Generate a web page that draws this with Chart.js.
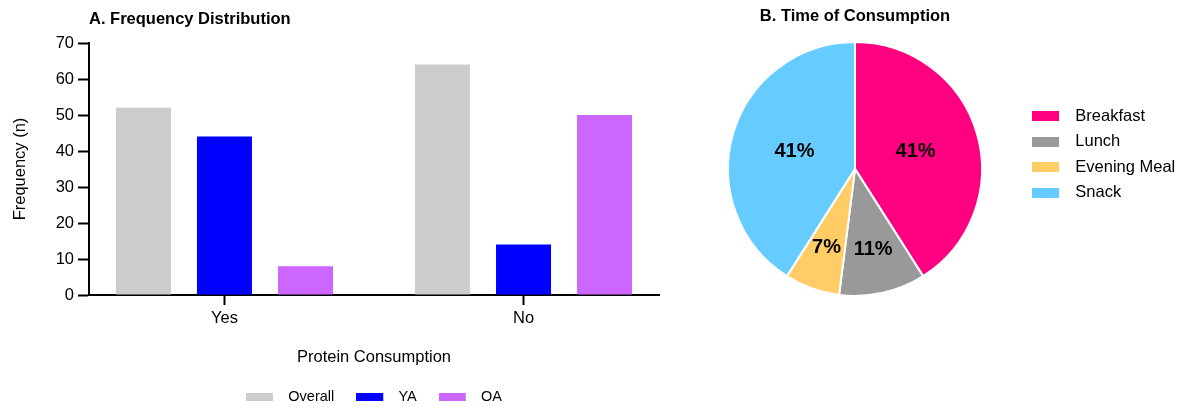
<!DOCTYPE html>
<html>
<head>
<meta charset="utf-8">
<title>Protein consumption</title>
<script src="https://cdn.jsdelivr.net/npm/chart.js@4.4.1/dist/chart.umd.min.js"></script>
<style>
  html, body { margin: 0; padding: 0; background: #fff; }
  body { width: 1182px; height: 407px; overflow: hidden; position: relative; }
  canvas { position: absolute; top: 0; }
  #bars { left: 0; }
  #pie { left: 680px; }
</style>
</head>
<body>
<canvas id="bars" width="680" height="414"></canvas>
<canvas id="pie" width="506" height="306"></canvas>
<script>
// Panel A: frequency of protein consumption by group
const proteinCategories = ['Yes', 'No'];
const overallCounts = [52, 64];
const yaCounts = [44, 14];
const oaCounts = [8, 50];
const frequencyTicks = [0, 10, 20, 30, 40, 50, 60, 70];

// Panel B: time of consumption (percent of respondents)
const mealLabels = ['Breakfast', 'Lunch', 'Evening Meal', 'Snack'];
const mealShares = [41, 11, 7, 41];

const FONT = "'Liberation Sans', Arial, Helvetica, sans-serif";
Chart.defaults.font.family = FONT;
Chart.defaults.color = '#000';

// Legend swatch: a coloured block followed by a blank gap before the text
function swatch(color, slotWidth, boxWidth, boxHeight) {
  const c = document.createElement('canvas');
  c.width = slotWidth;
  c.height = boxHeight;
  const g = c.getContext('2d');
  g.fillStyle = color;
  g.fillRect(0, 0, boxWidth, boxHeight);
  return c;
}

const toPoints = values => values.map((v, i) => ({ x: i + 1, y: v }));

new Chart(document.getElementById('bars'), {
  type: 'bar',
  data: {
    datasets: [
      { label: 'Overall', data: toPoints(overallCounts), backgroundColor: '#CCCCCC' },
      { label: 'YA', data: toPoints(yaCounts), backgroundColor: '#0000FF' },
      { label: 'OA', data: toPoints(oaCounts), backgroundColor: '#CC66FF' }
    ]
  },
  options: {
    responsive: false,
    animation: false,
    barPercentage: 0.679,
    categoryPercentage: 0.8127,
    layout: { padding: { left: 0, right: 21, top: 0, bottom: 0 } },
    scales: {
      x: {
        type: 'linear',
        bounds: 'data',
        min: 0.547,
        max: 2.453,
        offset: false,
        afterBuildTicks: s => { s.ticks = proteinCategories.map((_, i) => ({ value: i + 1 })); },
        afterFit: s => { s.height = 72.5; },
        grid: { drawOnChartArea: false, drawTicks: true, tickLength: 10, tickWidth: 2, tickColor: '#000', offset: false },
        border: { display: true, color: '#000', width: 2 },
        ticks: {
          padding: 4, autoSkip: false, maxRotation: 0, color: '#000',
          font: { size: 16.5 },
          callback: v => proteinCategories[v - 1]
        },
        title: {
          display: true, text: 'Protein Consumption', color: '#000',
          font: { size: 16.5 }, padding: { top: 0, bottom: 0.6 }
        }
      },
      y: {
        min: 0,
        max: 70,
        afterBuildTicks: s => { s.ticks = frequencyTicks.map(v => ({ value: v })); },
        afterFit: s => { s.width = 89; },
        grid: { drawOnChartArea: false, drawTicks: true, tickLength: 11, tickWidth: 2, tickColor: '#000' },
        border: { display: true, color: '#000', width: 2 },
        ticks: { padding: 4, color: '#000', font: { size: 16.5 } },
        title: {
          display: true, text: 'Frequency (n)', color: '#000',
          font: { size: 16.5 }, padding: { top: 11, bottom: 0 }
        }
      }
    },
    plugins: {
      title: {
        display: true, text: 'A. Frequency Distribution', align: 'start', fullSize: false,
        color: '#000', font: { size: 16.5, weight: 'bold' }, padding: { top: 10, bottom: 13.2 }
      },
      legend: {
        position: 'bottom',
        fullSize: false,
        labels: {
          usePointStyle: true,
          pointStyleWidth: 35,
          padding: 22,
          color: '#000',
          font: { size: 14.5 },
          generateLabels: chart => chart.data.datasets.map((ds, i) => ({
            text: ds.label,
            fillStyle: ds.backgroundColor,
            strokeStyle: ds.backgroundColor,
            lineWidth: 0,
            pointStyle: swatch(ds.backgroundColor, 35, 27, 8),
            datasetIndex: i,
            hidden: !chart.isDatasetVisible(i)
          }))
        }
      },
      tooltip: { enabled: false }
    }
  }
});

// Percent labels placed at each slice's centroid
const sliceLabels = {
  id: 'sliceLabels',
  afterDatasetsDraw(chart) {
    const { ctx } = chart;
    const values = chart.data.datasets[0].data;
    ctx.save();
    ctx.font = 'bold 20px ' + FONT;
    ctx.fillStyle = '#000';
    ctx.textAlign = 'center';
    ctx.textBaseline = 'middle';
    chart.getDatasetMeta(0).data.forEach((arc, i) => {
      const { x, y, startAngle, endAngle, outerRadius } =
        arc.getProps(['x', 'y', 'startAngle', 'endAngle', 'outerRadius'], true);
      const sweep = endAngle - startAngle;
      const mid = startAngle + sweep / 2;
      const d = 4 * outerRadius * Math.sin(sweep / 2) / (3 * sweep);
      ctx.fillText(values[i] + '%', x + Math.cos(mid) * d, y + Math.sin(mid) * d);
    });
    ctx.restore();
  }
};

new Chart(document.getElementById('pie'), {
  type: 'pie',
  data: {
    labels: mealLabels,
    datasets: [{
      data: mealShares,
      backgroundColor: ['#FF0080', '#999999', '#FFCC66', '#66CCFF'],
      borderColor: '#FFFFFF',
      borderWidth: 2
    }]
  },
  plugins: [sliceLabels],
  options: {
    responsive: false,
    animation: false,
    radius: 127,
    layout: { padding: { left: 7, right: 0.75, top: 3, bottom: 0 } },
    plugins: {
      title: {
        display: true, text: 'B. Time of Consumption', fullSize: false,
        color: '#000', font: { size: 16.5, weight: 'bold' }, padding: { top: 4, bottom: 5 }
      },
      legend: {
        position: 'right',
        labels: {
          usePointStyle: true,
          pointStyleWidth: 35,
          padding: 9,
          color: '#000',
          font: { size: 16.5 },
          generateLabels: chart => {
            const ds = chart.data.datasets[0];
            return chart.data.labels.map((label, i) => ({
              text: label,
              fillStyle: ds.backgroundColor[i],
              strokeStyle: ds.backgroundColor[i],
              lineWidth: 0,
              pointStyle: swatch(ds.backgroundColor[i], 35, 27, 10),
              index: i,
              hidden: !chart.getDataVisibility(i)
            }));
          }
        }
      },
      tooltip: { enabled: false }
    }
  }
});
</script>
</body>
</html>
